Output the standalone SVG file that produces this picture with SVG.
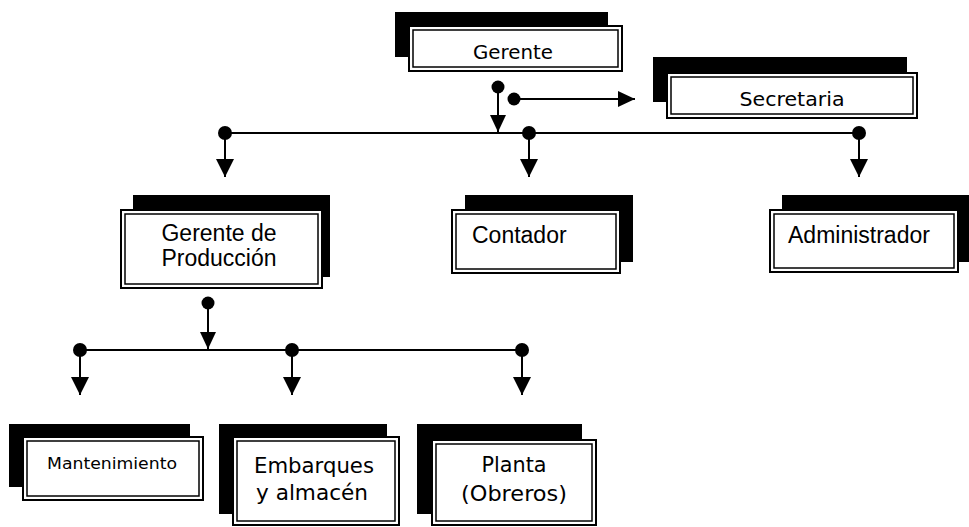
<svg xmlns="http://www.w3.org/2000/svg" width="969" height="527" viewBox="0 0 969 527">
  <style>
    .shadow { fill: #000; }
    .box { fill: #fff; stroke: #000; stroke-width: 2; }
    .inner { fill: none; stroke: #000; stroke-width: 1.5; }
    .comic { font-family: "DejaVu Sans", "Liberation Sans", sans-serif; fill: #000; }
    .arial { font-family: "Liberation Sans", Arial, sans-serif; font-size: 23px; fill: #000; }
    .line { fill: none; stroke: #000; stroke-width: 2; }
    .dot { fill: #000; }
  </style>
  <defs>
    <marker id="arrow" markerUnits="userSpaceOnUse" markerWidth="18" markerHeight="18" refX="18" refY="9" orient="auto">
      <path d="M0,0 L18,9 L0,18 z" fill="#000"/>
    </marker>
    <marker id="arrowS" markerUnits="userSpaceOnUse" markerWidth="17" markerHeight="16" refX="17" refY="8" orient="auto">
      <path d="M0,0 L17,8 L0,16 z" fill="#000"/>
    </marker>
  </defs>

  <!-- connectors -->
  <g id="connectors">
    <path class="line" d="M498,87 L498,132" marker-end="url(#arrowS)"/>
    <circle class="dot" cx="498" cy="87" r="6.5"/>
    <path class="line" d="M514,99 L635,99" marker-end="url(#arrowS)"/>
    <circle class="dot" cx="514" cy="99" r="6.5"/>
    <path class="line" d="M225,133 L859,133"/>
    <path class="line" d="M225,133 L225,177" marker-end="url(#arrow)"/>
    <path class="line" d="M529,133 L529,177" marker-end="url(#arrow)"/>
    <path class="line" d="M859,133 L859,177" marker-end="url(#arrow)"/>
    <circle class="dot" cx="225" cy="133" r="7"/>
    <circle class="dot" cx="529" cy="133" r="7"/>
    <circle class="dot" cx="859" cy="133" r="7"/>
    <path class="line" d="M208,303 L208,349" marker-end="url(#arrowS)"/>
    <circle class="dot" cx="208" cy="303" r="6.5"/>
    <path class="line" d="M80,350 L522,350"/>
    <path class="line" d="M80,350 L80,395" marker-end="url(#arrow)"/>
    <path class="line" d="M292,350 L292,395" marker-end="url(#arrow)"/>
    <path class="line" d="M522,350 L522,395" marker-end="url(#arrow)"/>
    <circle class="dot" cx="80" cy="350" r="7"/>
    <circle class="dot" cx="292" cy="350" r="7"/>
    <circle class="dot" cx="522" cy="350" r="7"/>
  </g>

  <g id="gerente">
    <rect class="shadow" x="395" y="12" width="213" height="45"/>
    <rect class="box" x="409" y="26" width="213" height="45"/>
    <rect class="inner" x="413" y="30" width="205" height="37"/>
    <text class="comic" x="513" y="59" font-size="19" text-anchor="middle" textLength="80" lengthAdjust="spacingAndGlyphs">Gerente</text>
  </g>

  <g id="secretaria">
    <rect class="shadow" x="653" y="57" width="254" height="45"/>
    <rect class="box" x="667" y="73" width="250" height="45"/>
    <rect class="inner" x="671" y="77" width="242" height="37"/>
    <text class="comic" x="792" y="106" font-size="19" text-anchor="middle" textLength="105" lengthAdjust="spacingAndGlyphs">Secretaria</text>
  </g>

  <g id="gerente-produccion">
    <rect class="shadow" x="133" y="195" width="197" height="82"/>
    <rect class="box" x="121" y="210" width="201" height="78"/>
    <rect class="inner" x="125" y="214" width="193" height="70"/>
    <text class="arial" x="219" y="241" text-anchor="middle">Gerente de</text>
    <text class="arial" x="219" y="266" text-anchor="middle">Producción</text>
  </g>

  <g id="contador">
    <rect class="shadow" x="465" y="195" width="168" height="67"/>
    <rect class="box" x="452" y="210" width="168" height="63"/>
    <rect class="inner" x="456" y="214" width="160" height="55"/>
    <text class="arial" x="472" y="243">Contador</text>
  </g>

  <g id="administrador">
    <rect class="shadow" x="782" y="195" width="190" height="67"/>
    <rect class="box" x="770" y="210" width="188" height="62"/>
    <rect class="inner" x="774" y="214" width="180" height="54"/>
    <text class="arial" x="788" y="243">Administrador</text>
  </g>

  <g id="mantenimiento">
    <rect class="shadow" x="9" y="424" width="181" height="63"/>
    <rect class="box" x="23" y="437" width="180" height="63"/>
    <rect class="inner" x="27" y="441" width="172" height="55"/>
    <text class="comic" x="112" y="469" font-size="16" text-anchor="middle" textLength="130" lengthAdjust="spacingAndGlyphs">Mantenimiento</text>
  </g>

  <g id="embarques">
    <rect class="shadow" x="219" y="424" width="168" height="90"/>
    <rect class="box" x="233" y="437" width="166" height="88"/>
    <rect class="inner" x="237" y="441" width="158" height="80"/>
    <text class="comic" x="314" y="473" font-size="21" text-anchor="middle" textLength="120" lengthAdjust="spacingAndGlyphs">Embarques</text>
    <text class="comic" x="312" y="500" font-size="21" text-anchor="middle" textLength="112" lengthAdjust="spacingAndGlyphs">y almacén</text>
  </g>

  <g id="planta">
    <rect class="shadow" x="417" y="424" width="165" height="90"/>
    <rect class="box" x="432" y="440" width="164" height="85"/>
    <rect class="inner" x="436" y="444" width="156" height="77"/>
    <text class="comic" x="514" y="472" font-size="21" text-anchor="middle" textLength="65" lengthAdjust="spacingAndGlyphs">Planta</text>
    <text class="comic" x="514" y="501" font-size="21" text-anchor="middle" textLength="106" lengthAdjust="spacingAndGlyphs">(Obreros)</text>
  </g>
</svg>
